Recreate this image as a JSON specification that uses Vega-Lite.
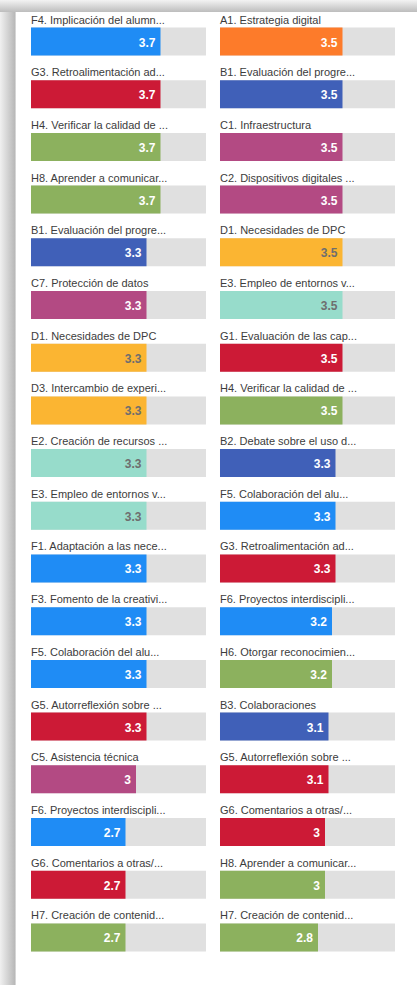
{
  "$schema": "https://vega.github.io/schema/vega-lite/v6.json",
  "padding": 0,
  "autosize": {"type": "pad"},
  "background": "#ffffff",
  "config": {
    "font": "Liberation Sans",
    "concat": {"spacing": 0}
  },
  "datasets": {
    "items": [
      {"col": "left", "rank": 1, "label": "F4. Implicación del alumn...", "group": "F", "value": 3.7},
      {"col": "left", "rank": 2, "label": "G3. Retroalimentación ad...", "group": "G", "value": 3.7},
      {"col": "left", "rank": 3, "label": "H4. Verificar la calidad de ...", "group": "H", "value": 3.7},
      {"col": "left", "rank": 4, "label": "H8. Aprender a comunicar...", "group": "H", "value": 3.7},
      {"col": "left", "rank": 5, "label": "B1. Evaluación del progre...", "group": "B", "value": 3.3},
      {"col": "left", "rank": 6, "label": "C7. Protección de datos", "group": "C", "value": 3.3},
      {"col": "left", "rank": 7, "label": "D1. Necesidades de DPC", "group": "D", "value": 3.3},
      {"col": "left", "rank": 8, "label": "D3. Intercambio de experi...", "group": "D", "value": 3.3},
      {"col": "left", "rank": 9, "label": "E2. Creación de recursos ...", "group": "E", "value": 3.3},
      {"col": "left", "rank": 10, "label": "E3. Empleo de entornos v...", "group": "E", "value": 3.3},
      {"col": "left", "rank": 11, "label": "F1. Adaptación a las nece...", "group": "F", "value": 3.3},
      {"col": "left", "rank": 12, "label": "F3. Fomento de la creativi...", "group": "F", "value": 3.3},
      {"col": "left", "rank": 13, "label": "F5. Colaboración del alu...", "group": "F", "value": 3.3},
      {"col": "left", "rank": 14, "label": "G5. Autorreflexión sobre ...", "group": "G", "value": 3.3},
      {"col": "left", "rank": 15, "label": "C5. Asistencia técnica", "group": "C", "value": 3},
      {"col": "left", "rank": 16, "label": "F6. Proyectos interdiscipli...", "group": "F", "value": 2.7},
      {"col": "left", "rank": 17, "label": "G6. Comentarios a otras/...", "group": "G", "value": 2.7},
      {"col": "left", "rank": 18, "label": "H7. Creación de contenid...", "group": "H", "value": 2.7},
      {"col": "right", "rank": 1, "label": "A1. Estrategia digital", "group": "A", "value": 3.5},
      {"col": "right", "rank": 2, "label": "B1. Evaluación del progre...", "group": "B", "value": 3.5},
      {"col": "right", "rank": 3, "label": "C1. Infraestructura", "group": "C", "value": 3.5},
      {"col": "right", "rank": 4, "label": "C2. Dispositivos digitales ...", "group": "C", "value": 3.5},
      {"col": "right", "rank": 5, "label": "D1. Necesidades de DPC", "group": "D", "value": 3.5},
      {"col": "right", "rank": 6, "label": "E3. Empleo de entornos v...", "group": "E", "value": 3.5},
      {"col": "right", "rank": 7, "label": "G1. Evaluación de las cap...", "group": "G", "value": 3.5},
      {"col": "right", "rank": 8, "label": "H4. Verificar la calidad de ...", "group": "H", "value": 3.5},
      {"col": "right", "rank": 9, "label": "B2. Debate sobre el uso d...", "group": "B", "value": 3.3},
      {"col": "right", "rank": 10, "label": "F5. Colaboración del alu...", "group": "F", "value": 3.3},
      {"col": "right", "rank": 11, "label": "G3. Retroalimentación ad...", "group": "G", "value": 3.3},
      {"col": "right", "rank": 12, "label": "F6. Proyectos interdiscipli...", "group": "F", "value": 3.2},
      {"col": "right", "rank": 13, "label": "H6. Otorgar reconocimien...", "group": "H", "value": 3.2},
      {"col": "right", "rank": 14, "label": "B3. Colaboraciones", "group": "B", "value": 3.1},
      {"col": "right", "rank": 15, "label": "G5. Autorreflexión sobre ...", "group": "G", "value": 3.1},
      {"col": "right", "rank": 16, "label": "G6. Comentarios a otras/...", "group": "G", "value": 3},
      {"col": "right", "rank": 17, "label": "H8. Aprender a comunicar...", "group": "H", "value": 3},
      {"col": "right", "rank": 18, "label": "H7. Creación de contenid...", "group": "H", "value": 2.8}
    ]
  },
  "vconcat": [
    {
      "width": 417,
      "height": 12,
      "data": {"values": []},
      "mark": "rect",
      "encoding": {},
      "view": {
        "stroke": null,
        "fill": {
          "gradient": "linear", "x1": 0, "y1": 0, "x2": 0, "y2": 1,
          "stops": [
            {"offset": 0, "color": "#f3f3f3"},
            {"offset": 1, "color": "#bdbdbd"}
          ]
        }
      }
    },
    {
      "spacing": 0,
      "hconcat": [
        {
          "width": 213,
          "height": 973,
          "data": {"name": "items"},
          "transform": [{"filter": "datum.col === 'left'"}],
          "view": {
            "stroke": null,
            "fill": {
              "gradient": "linear", "x1": 0, "y1": 0, "x2": 1, "y2": 0,
              "stops": [
                {"offset": 0, "color": "#f0f0f0"},
                {"offset": 0.071, "color": "#b7b7b7"},
                {"offset": 0.0752, "color": "#ffffff"},
                {"offset": 1, "color": "#ffffff"}
              ]
            }
          },
          "encoding": {
            "y": {
              "field": "rank", "type": "ordinal", "axis": null,
              "scale": {"paddingInner": 0.4687, "paddingOuter": 0.4659, "align": 0.3157}
            }
          },
          "layer": [
            {
              "mark": {"type": "bar", "color": "#e0e0e0"},
              "encoding": {
                "x": {"datum": 5, "type": "quantitative", "axis": null,
                      "scale": {"domain": [-0.8857, 5.2], "nice": false, "zero": false}}
              }
            },
            {
              "mark": {"type": "bar"},
              "encoding": {
                "x": {"field": "value", "type": "quantitative"},
                "color": {
                  "field": "group", "type": "nominal", "legend": null,
                  "scale": {
                    "domain": ["A", "B", "C", "D", "E", "F", "G", "H"],
                    "range": ["#fd7b2a", "#4060b8", "#b34a83", "#fbb532", "#97dccb", "#1f8cf5", "#cc1a36", "#8cb15e"]
                  }
                }
              }
            },
            {
              "mark": {"type": "text", "align": "right", "baseline": "middle", "dx": -5, "dy": 1, "fontSize": 12, "fontWeight": "bold"},
              "encoding": {
                "x": {"field": "value", "type": "quantitative"},
                "text": {"field": "value", "type": "quantitative"},
                "color": {
                  "condition": {"test": "datum.group === 'D' || datum.group === 'E'", "value": "#6e6e6e"},
                  "value": "#ffffff"
                }
              }
            },
            {
              "mark": {"type": "text", "align": "left", "baseline": "alphabetic", "dy": -18, "fontSize": 11, "color": "#3c3c3c"},
              "encoding": {
                "x": {"datum": 0, "type": "quantitative"},
                "text": {"field": "label", "type": "nominal"}
              }
            }
          ]
        },
        {
          "width": 204,
          "height": 973,
          "data": {"name": "items"},
          "transform": [{"filter": "datum.col === 'right'"}],
          "view": {"stroke": null, "fill": "#ffffff"},
          "encoding": {
            "y": {
              "field": "rank", "type": "ordinal", "axis": null,
              "scale": {"paddingInner": 0.4687, "paddingOuter": 0.4659, "align": 0.3157}
            }
          },
          "layer": [
            {
              "mark": {"type": "bar", "color": "#e0e0e0"},
              "encoding": {
                "x": {"datum": 5, "type": "quantitative", "axis": null,
                      "scale": {"domain": [-0.2, 5.6286], "nice": false, "zero": false}}
              }
            },
            {
              "mark": {"type": "bar"},
              "encoding": {
                "x": {"field": "value", "type": "quantitative"},
                "color": {
                  "field": "group", "type": "nominal", "legend": null,
                  "scale": {
                    "domain": ["A", "B", "C", "D", "E", "F", "G", "H"],
                    "range": ["#fd7b2a", "#4060b8", "#b34a83", "#fbb532", "#97dccb", "#1f8cf5", "#cc1a36", "#8cb15e"]
                  }
                }
              }
            },
            {
              "mark": {"type": "text", "align": "right", "baseline": "middle", "dx": -5, "dy": 1, "fontSize": 12, "fontWeight": "bold"},
              "encoding": {
                "x": {"field": "value", "type": "quantitative"},
                "text": {"field": "value", "type": "quantitative"},
                "color": {
                  "condition": {"test": "datum.group === 'D' || datum.group === 'E'", "value": "#6e6e6e"},
                  "value": "#ffffff"
                }
              }
            },
            {
              "mark": {"type": "text", "align": "left", "baseline": "alphabetic", "dy": -18, "fontSize": 11, "color": "#3c3c3c"},
              "encoding": {
                "x": {"datum": 0, "type": "quantitative"},
                "text": {"field": "label", "type": "nominal"}
              }
            }
          ]
        }
      ]
    }
  ]
}
